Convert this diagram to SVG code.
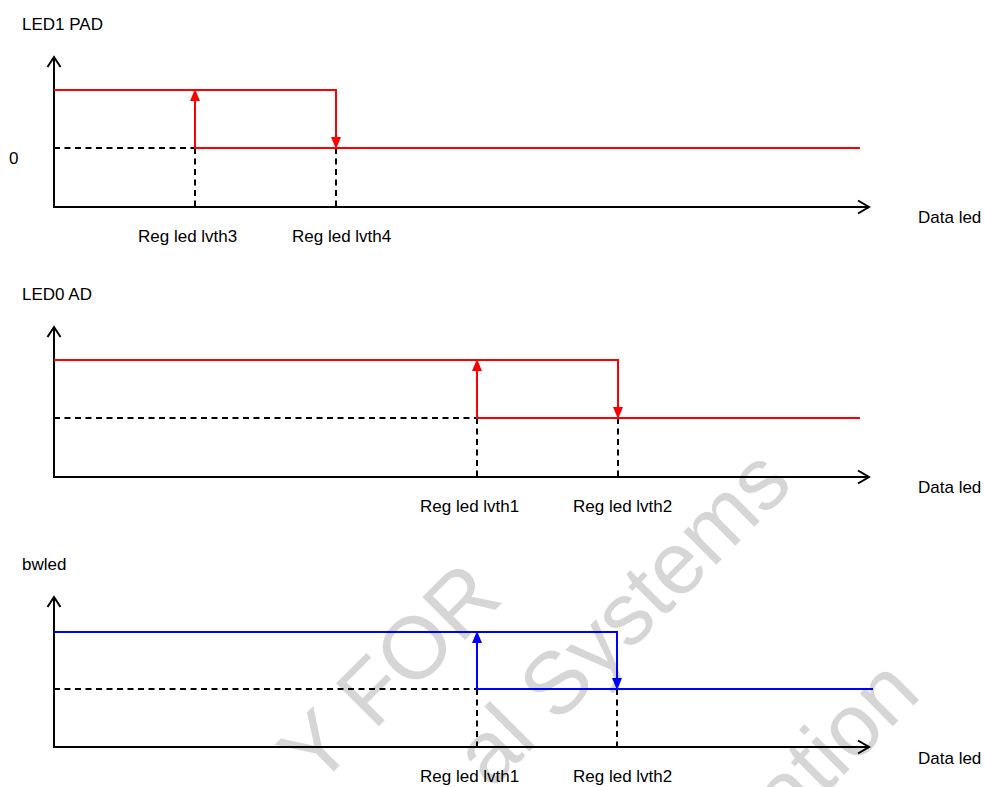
<svg xmlns="http://www.w3.org/2000/svg" width="986" height="787" viewBox="0 0 986 787">
<defs>
<style>
.t{font-family:"Liberation Sans",Arial,sans-serif;font-size:17px;fill:#000}
.wm{font-family:"Liberation Sans",Arial,sans-serif;font-size:88px;fill:#d6d6d6;text-anchor:end}
.ax{stroke:#000;stroke-width:2;fill:none}
.dash{stroke:#000;stroke-width:2;fill:none;stroke-dasharray:6 4.5}
.red{stroke:#ff0000;stroke-width:2;fill:none}
.blue{stroke:#0000ff;stroke-width:2;fill:none}
.rf{fill:#ff0000}
.bf{fill:#0000ff}
</style>
</defs>
<rect width="986" height="787" fill="#fff"/>
<g id="watermark">
<text class="wm" transform="translate(505,600) rotate(-45)">Y FOR</text>
<text class="wm" transform="translate(795,486) rotate(-45)">al Systems</text>
<text class="wm" transform="translate(923,696) rotate(-45)">ation</text>
</g>
<g id="panel1">
<text class="t" x="22" y="30">LED1 PAD</text>
<text class="t" x="9" y="164">0</text>
<path class="ax" d="M54,57 V207 H869"/>
<path class="ax" d="M47.5,67 L54,57 L60.5,67"/>
<path class="ax" d="M858,200.5 L869,207 L858,213.5"/>
<path class="dash" d="M54,148 H195 M195,148 V207 M336,148 V207"/>
<path class="red" d="M54,90 H336 V140 M195,99 V148 H860"/>
<polygon class="rf" points="195,89 190,101 200,101"/>
<polygon class="rf" points="336,149 331,137 341,137"/>
<text class="t" x="138" y="242">Reg led lvth3</text>
<text class="t" x="292" y="242">Reg led lvth4</text>
<text class="t" x="918" y="223">Data led</text>
</g>
<g id="panel2">
<text class="t" x="22" y="300">LED0 AD</text>
<path class="ax" d="M54,327 V477 H869"/>
<path class="ax" d="M47.5,337 L54,327 L60.5,337"/>
<path class="ax" d="M858,470.5 L869,477 L858,483.5"/>
<path class="dash" d="M54,418 H477 M477,418 V477 M618,418 V477"/>
<path class="red" d="M54,360 H618 V410 M477,369 V418 H860"/>
<polygon class="rf" points="477,359 472,371 482,371"/>
<polygon class="rf" points="618,419 613,407 623,407"/>
<text class="t" x="420" y="512">Reg led lvth1</text>
<text class="t" x="573" y="512">Reg led lvth2</text>
<text class="t" x="918" y="493">Data led</text>
</g>
<g id="panel3">
<text class="t" x="22" y="570">bwled</text>
<path class="ax" d="M54,597 V747 H869"/>
<path class="ax" d="M47.5,607 L54,597 L60.5,607"/>
<path class="ax" d="M858,740.5 L869,747 L858,753.5"/>
<path class="dash" d="M54,689 H477 M477,689 V747 M617,689 V747"/>
<path class="blue" d="M54,632 H617 V681 M477,641 V689 H873"/>
<polygon class="bf" points="477,631 472,643 482,643"/>
<polygon class="bf" points="617,690 612,678 622,678"/>
<text class="t" x="420" y="782">Reg led lvth1</text>
<text class="t" x="573" y="782">Reg led lvth2</text>
<text class="t" x="918" y="764">Data led</text>
</g>
</svg>
